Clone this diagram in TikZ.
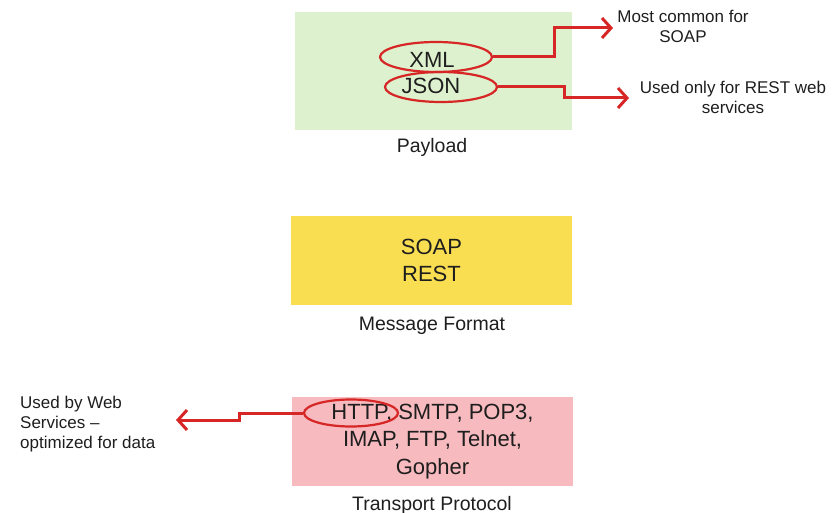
\documentclass[tikz,border=0pt]{standalone}
\usepackage{fontspec}
\setmainfont{Liberation Sans}
\usetikzlibrary{arrows.meta,shapes.geometric}
\definecolor{payloadgreen}{RGB}{222,241,206}
\definecolor{formatyellow}{RGB}{250,222,82}
\definecolor{transportpink}{RGB}{247,186,190}
\definecolor{markred}{RGB}{214,38,38}
\definecolor{inkgray}{RGB}{30,30,30}
\begin{document}
\begin{tikzpicture}[x=1pt,y=-1pt,
  layerbox/.style={rectangle,inner sep=0pt,draw=none,text=inkgray,align=center,font=\fontsize{22}{27.5}\selectfont},
  layerlabel/.style={inner sep=0pt,anchor=base,text=inkgray,font=\fontsize{19.5}{23}\selectfont},
  itemtext/.style={inner sep=0pt,anchor=north,text=inkgray,font=\fontsize{22}{27}\selectfont},
  ring/.style={ellipse,draw=markred,line width=2.2pt,inner sep=0pt},
  note/.style={inner sep=0pt,text=inkgray,font=\fontsize{17}{20}\selectfont},
  pointer/.style={draw=markred,line width=3pt,-{Straight Barb[length=9pt,width=20pt]}}]
\useasboundingbox (0,0) rectangle (834,513);
% layer boxes
\node[layerbox,fill=payloadgreen,minimum width=277pt,minimum height=118pt] (payload) at (433.5,71) {};
\node[layerbox,fill=formatyellow,minimum width=281pt,minimum height=89pt] (format) at (431.5,260.5) {SOAP\\REST};
\node[layerbox,fill=transportpink,minimum width=281pt,minimum height=89pt] (transport) at (432.5,441.5) {HTTP, SMTP, POP3,\\IMAP, FTP, Telnet,\\Gopher};
% layer labels
\node[layerlabel] (payloadlabel) at (432,153) {Payload};
\node[layerlabel] (formatlabel) at (432,330) {Message Format};
\node[layerlabel] (transportlabel) at (432,510) {Transport Protocol};
% payload items
\node[itemtext] (xml) at (432,52) {XML};
\node[itemtext] (json) at (431,78) {JSON};
\node[ring,minimum width=112pt,minimum height=30pt] (xmlring) at (436,57) {};
\node[ring,minimum width=112pt,minimum height=30pt] (jsonring) at (441,87) {};
\node[ring,minimum width=94pt,minimum height=27pt] (httpring) at (351,413) {};
% notes
\node[note,anchor=north,align=center] (xmlnote) at (683,10) {Most common for\\SOAP};
\node[note,anchor=north,align=center] (jsonnote) at (733,81) {Used only for REST web\\services};
\node[note,anchor=north west,align=left] (httpnote) at (20,396) {Used by Web\\Services --\\optimized for data};
% arrow tips
\coordinate (xmltip) at (613,28);
\coordinate (jsontip) at (629,98);
\coordinate (httptip) at (176,420);
% pointers
\draw[pointer] (xmlring.east) -- ++(61,0) |- (xmltip);
\draw[pointer] (jsonring.east) -- ++(66,0) |- (jsontip);
\draw[pointer] (httpring.west) -- ++(-63,0) |- (httptip);
\end{tikzpicture}
\end{document}
